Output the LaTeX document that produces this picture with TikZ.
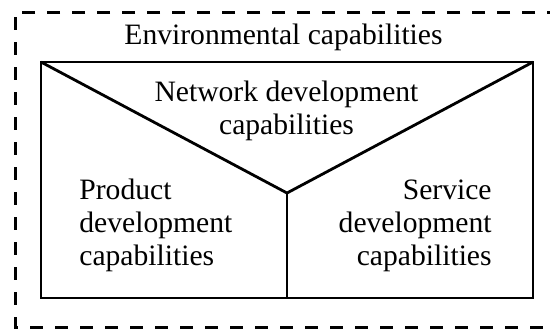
\documentclass[tikz,border=0pt]{standalone}
\usepackage{fontspec}
\setmainfont{Liberation Serif}
\begin{document}
\begin{tikzpicture}[x=0.5pt,y=-0.5pt,
    solidline/.style={line width=1.4pt, line join=miter},
    dashline/.style={line width=1.5pt, dash pattern=on 6.5pt off 6pt},
    capstext/.style={inner sep=0pt, font=\fontsize{14.8}{16.5}\selectfont}]
    \useasboundingbox (0,0) rectangle (550,329);

    % outer dashed frame, running past the right and bottom edges
    \draw [dashline] (560,12) -- (15,12) -- (15,327) -- (560,327);

    % inner box and its three parts
    \coordinate (tl) at (41,62);
    \coordinate (tr) at (533,62);
    \coordinate (br) at (533,298);
    \coordinate (bl) at (41,298);
    \coordinate (mid) at (287,193);
    \coordinate (bmid) at (287,298);
    \draw [solidline] (tl) -- (tr) -- (br) -- (bl) -- cycle;
    \draw [solidline] (tl) -- (mid) -- (tr);
    \draw [solidline] (mid) -- (bmid);

    % texts, placed by the baseline of their last line
    \node [capstext, anchor=base] (env) at (283.5,44) {Environmental capabilities};
    \node [capstext, anchor=base, align=center] (net) at (286.5,134) {Network development\\capabilities};
    \node [capstext, anchor=base west, align=left] (prod) at (79,265) {Product\\development\\capabilities};
    \node [capstext, anchor=base east, align=right] (serv) at (492,265) {Service\\development\\capabilities};
\end{tikzpicture}
\end{document}
